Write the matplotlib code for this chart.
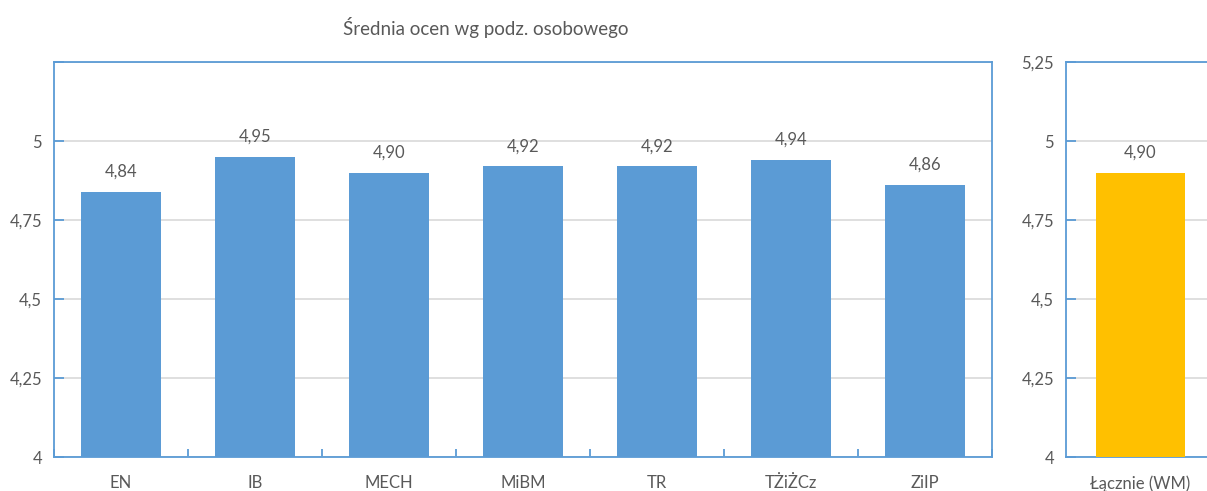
import matplotlib
matplotlib.use("Agg")
import matplotlib.pyplot as plt
import numpy as np

categories = ["EN", "IB", "MECH", "MiBM", "TR", "TŻiŻCz", "ZiIP"]
values = [4.84, 4.95, 4.90, 4.92, 4.92, 4.94, 4.86]
total_label = ["Łącznie (WM)"]
total_value = [4.90]
yticks = [4, 4.25, 4.5, 4.75, 5, 5.25]
title = "Średnia ocen wg podz. osobowego"

blue = "#5B9BD5"
gold = "#FFC000"
txt = "#595959"
grid = "#D9D9D9"
FONT = "Lato"

plt.rcParams['font.family'] = [FONT, 'DejaVu Sans']

W, H = 1207, 491
fig = plt.figure(figsize=(W / 100, H / 100), dpi=100)
FS = 12

def fmt(v):
    s = f"{v:g}"
    return s.replace(".", ",")

def style(ax, show_top_label):
    for sp in ax.spines.values():
        sp.set_color(blue)
        sp.set_linewidth(1.3)
    ax.set_ylim(4, 5.25)
    ax.set_yticks(yticks)
    labels = [fmt(t) for t in yticks]
    if not show_top_label:
        labels[-1] = ""
    ax.set_yticklabels(labels)
    ax.tick_params(axis='y', direction='in', length=7, width=1.3, color=blue,
                   labelsize=FS, labelcolor=txt, pad=8.5)
    ax.grid(axis='y', color=grid, linewidth=1.2)
    ax.set_axisbelow(True)

bot = (H - 457) / H
top = (H - 62) / H

ax1 = fig.add_axes([54 / W, bot, 938 / W, top - bot])
x = np.arange(len(categories))
ax1.bar(x, values, width=0.59, color=blue, zorder=3)
ax1.set_xlim(-0.5, len(categories) - 0.5)
style(ax1, False)
ax1.set_xticks(x)
ax1.set_xticklabels(categories)
ax1.set_xticks(np.arange(len(categories) + 1) - 0.5, minor=True)
ax1.tick_params(axis='x', which='major', length=0, labelsize=FS, labelcolor=txt, pad=13)
ax1.tick_params(axis='x', which='minor', direction='in', length=6, width=1.3, color=blue)
for xi, v in zip(x, values):
    ax1.annotate(f"{v:.2f}".replace(".", ","), (xi, v), xytext=(0, 14.5),
                 textcoords='offset points', ha='center', va='center',
                 fontsize=FS, color=txt)

ax2 = fig.add_axes([1066 / W, bot, 1 - 1066 / W, top - bot])
ax2.bar([0], total_value, width=0.6, color=gold, zorder=3)
ax2.set_xlim(-0.5, -0.5 + 141 / 149)
style(ax2, True)
ax2.spines['right'].set_visible(False)
ax2.set_xticks([0])
ax2.set_xticklabels(total_label)
ax2.tick_params(axis='x', which='major', length=0, labelsize=FS, labelcolor=txt, pad=13)
for v in total_value:
    ax2.annotate(f"{v:.2f}".replace(".", ","), (0, v), xytext=(0, 14.5),
                 textcoords='offset points', ha='center', va='center',
                 fontsize=FS, color=txt)

fig.text(486 / W, 1 - 28 / H, title, ha='center', va='center', fontsize=13.5, color=txt)

fig.savefig("out.png", dpi=100)
